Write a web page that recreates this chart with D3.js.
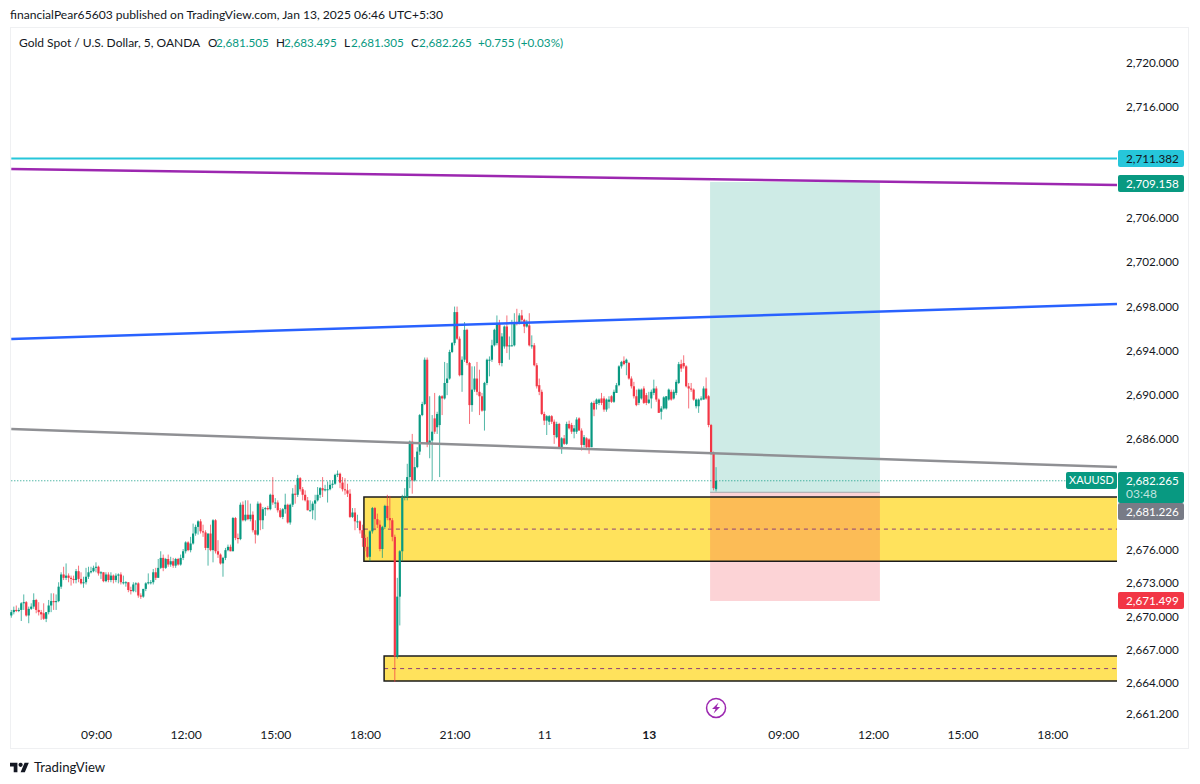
<!DOCTYPE html>
<html>
<head>
<meta charset="utf-8">
<script src="https://cdn.jsdelivr.net/npm/d3@7"></script>
<style>
  body { margin: 0; background: #fff; }
  text { font-family: Lato, "Noto Sans", sans-serif; }
</style>
</head>
<body>
<div id="chart"></div>
<script>
// 5 minute bars
var opens = [
  2670.1,2670.4,2670.6,2670.5,2670.6,2671.2,2671.3,2670.1,2670.7,2670.9,
  2671.5,2670.6,2670.4,2670.3,2669.8,2670.4,2671.0,2671.4,2671.3,2671.4,
  2672.7,2673.8,2673.5,2673.7,2673.5,2673.4,2673.3,2674.1,2673.4,2673.0,
  2673.1,2673.6,2674.0,2674.1,2674.4,2674.5,2673.9,2674.0,2673.2,2673.8,
  2673.3,2673.7,2673.3,2673.7,2673.8,2673.1,2673.1,2673.1,2672.4,2672.3,
  2672.9,2673.0,2671.9,2671.8,2672.5,2673.0,2673.1,2673.1,2674.0,2673.5,
  2674.4,2675.3,2674.4,2675.2,2674.7,2675.0,2674.6,2675.2,2674.7,2675.3,
  2675.9,2676.7,2676.0,2676.6,2677.5,2678.1,2678.6,2677.7,2677.6,2676.2,
  2677.5,2676.0,2678.7,2675.9,2675.6,2674.8,2675.3,2676.0,2676.3,2675.9,
  2678.9,2677.1,2677.0,2680.1,2678.7,2679.2,2678.8,2679.2,2677.8,2677.4,
  2680.2,2678.7,2679.7,2679.8,2679.7,2681.0,2680.3,2680.3,2679.6,2679.0,
  2679.7,2680.1,2678.5,2680.1,2681.1,2681.0,2682.5,2681.5,2681.0,2680.5,
  2679.6,2679.6,2680.2,2680.5,2681.0,2681.6,2681.4,2681.5,2681.5,2681.9,
  2682.0,2682.8,2682.9,2682.1,2681.5,2681.4,2681.1,2679.0,2679.4,2678.6,
  2678.6,2677.8,2677.1,2676.3,2675.4,2677.7,2679.8,2678.8,2678.3,2676.1,
  2678.1,2680.0,2678.9,2678.7,2677.2,2666.4,2671.8,2675.9,2680.8,2680.8,
  2682.6,2685.8,2682.3,2683.5,2684.9,2688.2,2689.2,2693.2,2685.6,2685.9,
  2687.9,2687.1,2687.3,2689.9,2689.7,2691.1,2691.5,2693.9,2694.7,2697.5,
  2695.1,2691.8,2693.2,2695.9,2692.9,2689.1,2690.5,2691.5,2690.3,2689.9,
  2688.6,2691.1,2693.2,2693.2,2694.5,2694.7,2696.5,2692.9,2694.4,2696.2,
  2694.4,2694.5,2694.5,2696.6,2696.5,2697.2,2696.8,2696.2,2696.3,2694.4,
  2694.5,2692.7,2690.9,2690.3,2688.3,2687.7,2687.6,2688.1,2687.6,2686.2,
  2687.4,2685.3,2686.1,2685.6,2687.4,2687.3,2686.7,2686.7,2687.9,2686.8,
  2685.5,2686.1,2686.0,2685.3,2689.3,2689.2,2689.3,2689.7,2689.7,2688.7,
  2689.4,2689.9,2689.4,2690.2,2690.9,2692.6,2693.1,2692.9,2692.9,2691.5,
  2690.8,2689.9,2689.3,2689.7,2690.6,2690.0,2689.3,2689.7,2690.2,2690.6,
  2689.6,2688.5,2688.8,2688.8,2689.6,2690.3,2689.7,2690.2,2691.1,2692.8,
  2692.9,2692.6,2690.8,2690.6,2690.5,2689.0,2689.0,2689.6,2689.6,2690.6,
  2689.9,2687.3,2684.7,2681.505
];
var closes = [
  2670.4,2670.6,2670.5,2670.6,2671.2,2671.3,2670.1,2670.7,2670.9,2671.5,
  2670.6,2670.4,2670.2,2669.8,2670.4,2671.0,2671.4,2671.3,2671.4,2672.7,
  2673.8,2673.5,2673.7,2673.5,2673.4,2673.3,2674.1,2673.4,2673.0,2673.1,
  2673.6,2674.0,2674.1,2674.4,2674.5,2673.9,2674.0,2673.2,2673.8,2673.3,
  2673.7,2673.3,2673.7,2673.8,2673.1,2673.1,2673.1,2672.4,2672.3,2672.9,
  2673.0,2671.9,2671.8,2672.5,2673.0,2673.1,2673.1,2674.0,2673.5,2674.4,
  2675.3,2674.4,2675.2,2674.7,2675.0,2674.6,2675.2,2674.7,2675.3,2675.9,
  2676.7,2676.0,2676.6,2677.5,2678.1,2678.6,2677.7,2677.6,2676.2,2677.5,
  2676.0,2678.7,2675.9,2675.6,2674.8,2675.3,2676.0,2676.3,2675.9,2678.9,
  2677.1,2677.0,2680.1,2678.7,2679.2,2678.8,2679.2,2677.8,2677.4,2680.2,
  2678.7,2679.7,2679.8,2679.7,2681.0,2680.3,2680.3,2679.6,2679.0,2679.7,
  2680.1,2678.5,2680.1,2681.1,2681.0,2682.5,2681.5,2681.0,2680.5,2679.6,
  2679.6,2680.2,2680.5,2681.0,2681.6,2681.4,2681.5,2681.5,2681.9,2682.0,
  2682.8,2682.9,2682.1,2681.5,2681.4,2681.1,2679.0,2679.4,2678.6,2678.6,
  2677.8,2677.1,2676.3,2675.4,2677.7,2679.8,2678.8,2678.3,2676.1,2678.1,
  2680.0,2678.9,2678.7,2677.2,2666.4,2671.8,2675.9,2680.8,2680.9,2682.6,
  2685.8,2682.3,2683.5,2684.9,2688.2,2689.2,2693.2,2685.6,2685.9,2686.7,
  2686.7,2688.3,2689.9,2689.7,2691.1,2691.5,2693.9,2694.7,2697.5,2695.1,
  2691.8,2693.2,2695.9,2692.9,2689.1,2690.5,2691.5,2690.3,2689.9,2688.6,
  2691.1,2693.2,2693.2,2694.5,2695.9,2696.5,2692.9,2695.3,2696.2,2694.4,
  2694.5,2694.5,2696.6,2696.5,2697.2,2696.8,2696.2,2696.6,2694.5,2694.5,
  2692.7,2690.8,2690.3,2688.3,2687.7,2688.1,2688.1,2687.6,2686.4,2687.4,
  2685.3,2686.1,2685.6,2687.4,2687.0,2686.7,2687.0,2687.8,2686.8,2685.5,
  2686.2,2685.3,2685.3,2689.3,2688.7,2689.6,2689.6,2689.3,2688.7,2689.6,
  2689.6,2689.4,2690.3,2690.9,2692.6,2693.0,2692.8,2693.2,2691.5,2690.8,
  2689.9,2689.1,2690.5,2690.5,2689.3,2689.3,2689.6,2690.3,2690.6,2689.6,
  2688.4,2688.8,2689.8,2689.9,2690.5,2689.6,2690.3,2691.2,2692.8,2692.4,
  2692.6,2690.8,2690.6,2690.5,2689.6,2689.6,2689.6,2689.7,2690.6,2689.7,
  2687.3,2684.7,2681.6,2682.265
];
var highs = [
  2670.6,2670.9,2671.0,2670.8,2671.3,2672.0,2671.4,2670.9,2671.2,2672.1,
  2671.6,2671.3,2670.6,2671.2,2670.4,2671.5,2672.1,2672.1,2672.0,2673.1,
  2674.0,2674.5,2674.8,2673.9,2673.7,2673.7,2674.3,2674.6,2674.0,2673.6,
  2674.4,2674.5,2674.5,2674.6,2674.9,2674.6,2674.1,2674.0,2674.0,2674.0,
  2674.0,2673.8,2673.9,2673.9,2674.0,2673.7,2673.2,2673.1,2672.7,2673.1,
  2673.1,2673.1,2672.1,2672.5,2673.1,2673.9,2673.3,2674.3,2674.4,2675.2,
  2675.9,2675.6,2675.3,2675.6,2675.4,2675.3,2675.3,2675.3,2675.6,2676.1,
  2676.8,2676.8,2677.2,2678.4,2678.3,2678.7,2678.8,2678.3,2677.8,2677.5,
  2678.3,2678.8,2678.8,2676.9,2675.7,2675.4,2676.2,2676.5,2676.5,2679.0,
  2679.0,2677.5,2680.3,2680.4,2680.5,2680.5,2680.2,2679.5,2678.7,2680.4,
  2680.3,2679.9,2679.9,2680.0,2681.1,2682.6,2680.7,2680.5,2679.8,2679.8,
  2681.1,2680.2,2680.2,2681.6,2681.9,2682.8,2682.6,2681.7,2681.4,2680.8,
  2680.5,2680.4,2681.0,2681.7,2681.7,2682.6,2681.9,2682.2,2682.3,2682.3,
  2682.9,2683.2,2683.0,2682.6,2682.5,2682.0,2681.5,2679.8,2679.8,2679.2,
  2678.7,2678.3,2677.4,2677.2,2677.8,2679.9,2679.9,2679.3,2678.7,2678.2,
  2680.1,2681.0,2680.9,2678.9,2677.4,2673.5,2676.0,2681.0,2681.6,2683.8,
  2685.9,2686.5,2684.4,2685.3,2688.3,2689.4,2693.4,2693.4,2689.9,2688.2,
  2690.2,2688.5,2690.0,2690.0,2693.0,2692.9,2694.1,2694.8,2698.0,2698.0,
  2695.3,2693.5,2696.6,2696.0,2693.0,2692.6,2692.6,2693.0,2692.3,2690.2,
  2691.2,2693.3,2693.5,2695.0,2696.0,2697.2,2696.8,2695.6,2696.3,2697.2,
  2695.3,2696.8,2697.4,2697.8,2697.4,2697.7,2696.9,2696.8,2697.4,2695.4,
  2694.7,2692.9,2691.5,2690.5,2688.5,2688.2,2688.2,2688.2,2687.8,2687.6,
  2687.5,2686.2,2686.4,2687.6,2687.7,2687.5,2687.3,2688.0,2688.0,2687.0,
  2686.4,2686.2,2686.1,2689.4,2689.5,2689.7,2689.7,2690.2,2689.9,2689.7,
  2689.9,2690.0,2690.5,2691.1,2692.7,2693.1,2693.5,2693.3,2693.0,2691.7,
  2691.2,2690.5,2690.6,2690.6,2690.8,2690.2,2690.3,2690.5,2691.4,2690.8,
  2689.7,2689.0,2689.9,2689.9,2690.6,2690.5,2690.5,2691.4,2693.0,2693.2,
  2693.6,2692.7,2691.1,2691.1,2690.6,2689.7,2689.7,2689.9,2690.8,2691.6,
  2690.0,2687.4,2684.9,2683.495
];
var lows = [
  2669.9,2670.2,2670.4,2670.4,2669.6,2670.6,2670.0,2669.4,2670.6,2670.7,
  2670.3,2670.1,2669.7,2669.7,2669.5,2670.2,2670.4,2670.6,2670.6,2671.3,
  2672.5,2673.3,2673.3,2673.1,2672.8,2673.0,2673.0,2673.1,2672.9,2672.6,
  2672.9,2673.4,2673.9,2674.0,2674.0,2673.7,2673.4,2673.1,2673.1,2673.1,
  2673.1,2673.0,2673.1,2673.0,2672.9,2672.9,2672.7,2672.2,2672.0,2672.2,
  2672.2,2671.7,2671.6,2671.7,2672.3,2672.9,2672.9,2672.9,2673.3,2673.5,
  2674.3,2674.1,2674.3,2674.5,2674.5,2674.4,2674.4,2674.6,2674.6,2675.1,
  2675.7,2675.9,2675.8,2676.5,2677.3,2677.4,2677.5,2677.2,2676.0,2674.6,
  2675.9,2674.9,2675.7,2675.3,2674.7,2673.6,2675.1,2675.9,2675.9,2675.9,
  2676.9,2676.6,2676.9,2678.6,2678.6,2678.7,2678.6,2677.6,2676.6,2677.3,
  2677.8,2677.9,2679.1,2679.6,2679.6,2680.1,2679.8,2679.4,2678.9,2678.8,
  2679.3,2678.4,2678.3,2679.9,2680.2,2680.8,2681.3,2680.5,2680.4,2679.6,
  2679.5,2678.8,2678.7,2680.4,2680.7,2680.8,2681.3,2680.3,2681.4,2681.6,
  2681.9,2682.6,2681.6,2681.3,2681.0,2680.8,2678.9,2678.9,2677.8,2678.0,
  2677.5,2676.3,2675.9,2675.3,2675.0,2677.5,2677.8,2678.0,2675.9,2675.3,
  2677.9,2678.7,2678.0,2676.8,2664.1,2666.2,2669.2,2675.0,2680.5,2680.5,
  2681.6,2681.1,2682.2,2683.4,2684.6,2688.1,2689.1,2685.3,2684.3,2682.3,
  2686.5,2686.5,2682.6,2688.2,2689.6,2690.0,2691.4,2693.8,2694.5,2695.0,
  2691.7,2690.3,2693.0,2692.7,2687.4,2688.5,2690.3,2690.0,2688.2,2688.5,
  2686.8,2690.9,2691.7,2693.0,2694.4,2694.5,2692.7,2692.6,2694.2,2693.8,
  2693.2,2694.4,2694.4,2696.3,2696.4,2696.6,2695.6,2696.1,2694.4,2694.2,
  2692.6,2690.6,2690.0,2688.2,2687.3,2686.4,2687.3,2687.4,2685.6,2686.1,
  2685.2,2684.7,2685.5,2685.5,2686.9,2686.5,2686.1,2686.5,2686.8,2685.0,
  2685.3,2685.2,2684.7,2685.3,2688.1,2688.7,2689.1,2689.1,2688.5,2688.5,
  2688.8,2689.3,2689.3,2690.2,2690.8,2692.4,2692.7,2691.8,2691.4,2690.6,
  2689.7,2689.0,2689.1,2689.6,2689.2,2689.1,2689.2,2688.8,2690.0,2689.4,
  2688.4,2687.8,2688.7,2688.7,2689.5,2689.5,2689.6,2690.0,2691.0,2692.1,
  2692.4,2690.7,2688.8,2690.3,2689.5,2688.8,2688.4,2689.5,2689.6,2689.6,
  2687.1,2684.6,2681.4,2681.305
];

// axis ticks
var priceTicks = [2720, 2716, 2706, 2702, 2698, 2694, 2690, 2686, 2676, 2673, 2670, 2667, 2664, 2661.2];
var timeTickBars = [34, 70, 106, 142, 178, 214, 256, 310, 346, 382, 418];
var timeTickLabels = ["09:00", "12:00", "15:00", "18:00", "21:00", "11", "13", "09:00", "12:00", "15:00", "18:00"];

// drawings on the chart: bar index / price pairs
var cyanLevel = 2711.382;
var purpleLine = [[0, 2710.42], [444, 2708.98]];
var blueLine = [[0, 2695.07], [444, 2698.23]];
var greyLine = [[0, 2686.94], [444, 2683.5]];
var demandZones = [
  {startBar: 141.6, top: 2680.8, bottom: 2675.0, middle: 2677.9},
  {startBar: 149.7, top: 2666.43, bottom: 2664.17, middle: 2665.3}
];
var positionBars = [280.6, 348.8];
var takeProfit = 2709.158, entryPrice = 2681.226, stopLoss = 2671.499;
var lastPrice = 2682.265;

var green = "#089981", red = "#f23645", textColor = "#131722";
var fullWidth = 1200, fullHeight = 784;
var paneRight = 1117;

var svg = d3.select("#chart").append("svg")
  .attr("width", fullWidth)
  .attr("height", fullHeight)
  .style("display", "block");

var xScale = d3.scaleLinear().domain([0, 444]).range([11.3, paneRight]);
var yScale = d3.scaleLinear().domain([2720, 2664]).range([63, 683]);

//outer pane border
svg.append("rect")
  .attr("x", 10.5).attr("y", 27.5)
  .attr("width", 1178).attr("height", 721)
  .attr("fill", "#fff")
  .attr("stroke", "#eff0f2");

//last price dotted line
svg.append("line")
  .attr("x1", xScale(0)).attr("x2", paneRight)
  .attr("y1", yScale(lastPrice)).attr("y2", yScale(lastPrice))
  .attr("stroke", green)
  .attr("stroke-width", 1)
  .attr("stroke-dasharray", "1 2");

//yellow zones, fill first so the candles sit on them
svg.selectAll(".zone")
  .data(demandZones)
  .enter().append("rect")
  .attr("class", "zone")
  .attr("x", function(d) { return xScale(d.startBar); })
  .attr("y", function(d) { return yScale(d.top); })
  .attr("width", function(d) { return paneRight - xScale(d.startBar); })
  .attr("height", function(d) { return yScale(d.bottom) - yScale(d.top); })
  .attr("fill", "#ffe25c");

//long position boxes
var posX = xScale(positionBars[0]);
var posW = xScale(positionBars[1]) - posX;
svg.append("rect")
  .attr("x", posX).attr("width", posW)
  .attr("y", yScale(takeProfit) - 1)
  .attr("height", yScale(entryPrice) - yScale(takeProfit) + 1)
  .attr("fill", green).attr("fill-opacity", 0.2);
svg.append("rect")
  .attr("x", posX).attr("width", posW)
  .attr("y", yScale(entryPrice))
  .attr("height", yScale(stopLoss) - yScale(entryPrice) + 1)
  .attr("fill", red).attr("fill-opacity", 0.22);
svg.append("line")
  .attr("x1", posX).attr("x2", posX + posW)
  .attr("y1", yScale(entryPrice)).attr("y2", yScale(entryPrice))
  .attr("stroke", "#a8a8ad").attr("stroke-width", 1);

//zone mid lines and outlines
demandZones.forEach(function(z) {
  var x0 = xScale(z.startBar);
  svg.append("line")
    .attr("x1", x0).attr("x2", paneRight)
    .attr("y1", yScale(z.middle)).attr("y2", yScale(z.middle))
    .attr("stroke", "#8a3f7a")
    .attr("stroke-width", 1)
    .attr("stroke-dasharray", "4 4");
  svg.append("path")
    .attr("d", "M" + paneRight + "," + yScale(z.top) + "H" + x0 + "V" + yScale(z.bottom) + "H" + paneRight)
    .attr("fill", "none")
    .attr("stroke", "#1c1c1c")
    .attr("stroke-width", 1.5);
});

//candles
var bars = d3.range(opens.length);
var candle = svg.append("g").selectAll("g")
  .data(bars)
  .enter().append("g")
  .attr("fill", function(i) { return closes[i] >= opens[i] ? green : red; });
candle.append("rect")
  .attr("x", function(i) { return xScale(i) - 0.5; })
  .attr("width", 1)
  .attr("y", function(i) { return yScale(highs[i]); })
  .attr("height", function(i) { return yScale(lows[i]) - yScale(highs[i]); })
  .attr("fill-opacity", 0.7);
candle.append("rect")
  .attr("x", function(i) { return xScale(i) - 1.1; })
  .attr("width", 2.2)
  .attr("y", function(i) { return yScale(Math.max(opens[i], closes[i])); })
  .attr("height", function(i) { return Math.max(1, Math.abs(yScale(opens[i]) - yScale(closes[i]))); });

//horizontal and trend lines
var line = d3.line()
  .x(function(d) { return xScale(d[0]); })
  .y(function(d) { return yScale(d[1]); });
[[purpleLine, "#9c27b0"], [blueLine, "#2962ff"], [greyLine, "#8f9094"]].forEach(function(l) {
  svg.append("path")
    .datum(l[0])
    .attr("d", line)
    .attr("fill", "none")
    .attr("stroke", l[1])
    .attr("stroke-width", 2.5);
});
svg.append("line")
  .attr("x1", xScale(0)).attr("x2", paneRight)
  .attr("y1", yScale(cyanLevel)).attr("y2", yScale(cyanLevel))
  .attr("stroke", "#26c6da").attr("stroke-width", 2);

//price axis
var yAxis = svg.append("g")
  .attr("transform", "translate(1118,0)")
  .call(d3.axisRight(yScale)
    .tickValues(priceTicks)
    .tickFormat(d3.format(",.3f"))
    .tickSize(0)
    .tickPadding(8));
yAxis.select(".domain").remove();
yAxis.selectAll("text")
  .attr("fill", textColor)
  .attr("dy", "0.3em")
  .style("font-family", "Lato, 'Noto Sans', sans-serif")
  .style("font-size", "11.7px");

//time axis
var xAxis = svg.append("g")
  .attr("transform", "translate(0,730)")
  .call(d3.axisBottom(xScale)
    .tickValues(timeTickBars)
    .tickFormat(function(d, i) { return timeTickLabels[i]; })
    .tickSize(0)
    .tickPadding(0));
xAxis.select(".domain").remove();
xAxis.selectAll("text")
  .attr("fill", textColor)
  .style("font-family", "Lato, 'Noto Sans', sans-serif")
  .style("font-size", "12.1px")
  .style("font-weight", function(d, i) { return timeTickLabels[i] === "13" ? "bold" : "normal"; });

//price labels on the axis
function priceLabel(price, top, h, fill, color) {
  svg.append("rect")
    .attr("x", 1118).attr("y", top)
    .attr("width", 66).attr("height", h)
    .attr("rx", 2)
    .attr("fill", fill);
  svg.append("text")
    .attr("x", 1126).attr("y", top + 8.5)
    .attr("dy", "0.35em")
    .attr("fill", color)
    .style("font-size", "11.7px")
    .text(d3.format(",.3f")(price));
}
priceLabel(cyanLevel, 150, 17, "#26c6da", textColor);
priceLabel(takeProfit, 175, 17, green, "#fff");
priceLabel(entryPrice, 503, 17, "#787b86", "#fff");
priceLabel(lastPrice, 472, 31, green, "#fff");
priceLabel(stopLoss, 592, 17, red, "#fff");
svg.append("text")
  .attr("x", 1126).attr("y", 494)
  .attr("dy", "0.35em")
  .attr("fill", "#fff").attr("fill-opacity", 0.75)
  .style("font-size", "12px")
  .text("03:48");

//symbol tag next to the axis
svg.append("rect")
  .attr("x", 1066).attr("y", 472)
  .attr("width", 51).attr("height", 17)
  .attr("rx", 2)
  .attr("fill", green);
svg.append("text")
  .attr("x", 1091.5).attr("y", 480.5)
  .attr("dy", "0.35em")
  .attr("text-anchor", "middle")
  .attr("fill", "#fff")
  .style("font-size", "11px")
  .text("XAUUSD");

//header and legend
svg.append("text")
  .attr("x", 10).attr("y", 15)
  .attr("dy", "0.35em")
  .attr("fill", textColor)
  .style("font-size", "12.1px")
  .text("financialPear65603 published on TradingView.com, Jan 13, 2025 06:46 UTC+5:30");

var legendParts = [
  ["Gold Spot / U.S. Dollar, 5, OANDA", 19, textColor, 12],
  ["O", 208, textColor, 11.7], ["2,681.505", 216, green, 11.7],
  ["H", 276, textColor, 11.7], ["2,683.495", 284, green, 11.7],
  ["L", 344, textColor, 11.7], ["2,681.305", 351, green, 11.7],
  ["C", 411, textColor, 11.7], ["2,682.265", 419, green, 11.7],
  ["+0.755 (+0.03%)", 478, green, 11.7]
];
svg.selectAll(".legend")
  .data(legendParts)
  .enter().append("text")
  .attr("class", "legend")
  .attr("x", function(d) { return d[1]; })
  .attr("y", 43)
  .attr("dy", "0.35em")
  .attr("fill", function(d) { return d[2]; })
  .style("font-size", function(d) { return d[3] + "px"; })
  .text(function(d) { return d[0]; });

//lightning marker under the last bar
var marker = svg.append("g")
  .attr("transform", "translate(" + xScale(283) + "," + yScale(2661.75) + ")");
marker.append("circle")
  .attr("r", 9.5)
  .attr("fill", "#fff")
  .attr("stroke", "#9c27b0")
  .attr("stroke-width", 1.5);
marker.append("path")
  .attr("d", "M2.5,-5.5L-4,1H-0.5L-2.5,5.5L4,-1H0.5Z")
  .attr("fill", "#9c27b0");

//TradingView logo
var logo = svg.append("g").attr("transform", "translate(10,759) scale(0.53)");
logo.append("path")
  .attr("d", "M14 25H7V14H0V7h14v18zM28 25h-8l7.5-18h8L28 25z")
  .attr("fill", textColor);
logo.append("circle")
  .attr("cx", 20).attr("cy", 11).attr("r", 4)
  .attr("fill", textColor);
svg.append("text")
  .attr("x", 34).attr("y", 767)
  .attr("dy", "0.35em")
  .attr("fill", textColor)
  .style("font-size", "13.2px")
  .text("TradingView");
</script>
</body>
</html>
